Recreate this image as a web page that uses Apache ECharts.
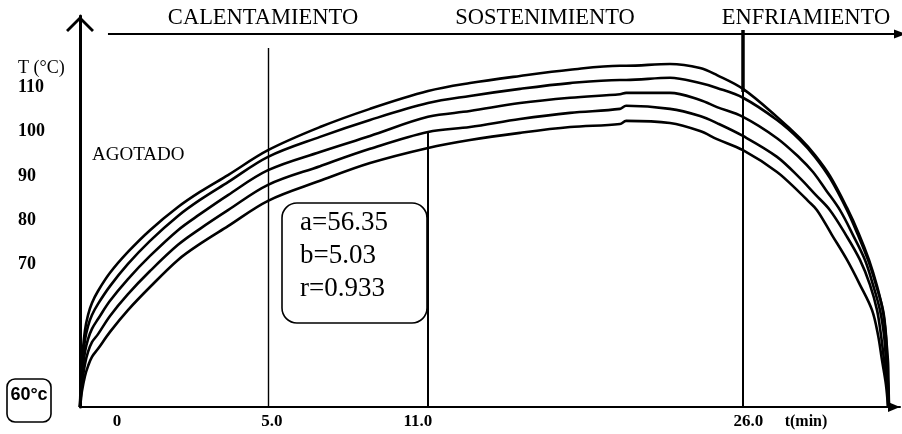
<!DOCTYPE html>
<html>
<head>
<meta charset="utf-8">
<script src="https://cdn.jsdelivr.net/npm/echarts@6/dist/echarts.min.js"></script>
<style>
  html, body { margin: 0; padding: 0; background: #fff; }
  #chart { width: 902px; height: 434px; }
</style>
</head>
<body>
<div id="chart"></div>
<script>
// Schematic run axis: 0 = start of heating, 100 = end of cooling (not linear in minutes)
const xPos = [0, 0.12, 0.24, 0.61, 0.98, 1.46, 2.2, 3.66, 5.85, 8.54, 11.95, 14.63, 18.05, 22.93,
  29.27, 35.37, 42.44, 47.56, 53.66, 59.76, 65.85, 66.6, 71.95, 75.61, 77.68, 80.85, 85.0, 87.8];

// Temperature (°C) of each profile at xPos, top curve first
const curve1 = [38.0, 45.2, 48.6, 55.3, 58.7, 61.4, 64.1, 68.2, 72.9, 77.8, 83.0, 86.4, 90.2, 95.8,
  101.0, 105.1, 109.1, 110.9, 112.5, 113.9, 114.8, 114.8, 115.2, 114.3, 112.7, 109.6, 103.3, 98.5];
const curve2 = [38.0, 43.6, 46.8, 53.1, 56.2, 58.7, 61.2, 65.2, 70.2, 75.4, 81.0, 84.6, 88.6, 94.3,
  98.8, 102.6, 106.4, 108.0, 109.6, 110.9, 111.6, 111.6, 112.1, 110.9, 109.8, 107.6, 102.6, 98.1];
const curve3 = [38.0, 42.3, 45.0, 50.4, 53.3, 55.6, 57.8, 61.9, 66.8, 72.0, 77.8, 81.4, 85.7, 91.3,
  95.4, 99.0, 103.3, 104.6, 106.4, 107.6, 108.4, 108.7, 108.7, 107.1, 105.5, 103.3, 98.5, 94.0];
const curve4 = [38.0, 40.9, 43.2, 47.7, 50.4, 52.6, 54.4, 58.5, 63.4, 68.6, 74.5, 78.1, 82.3, 88.0,
  92.2, 96.1, 99.9, 101.0, 102.8, 104.2, 105.1, 105.8, 105.1, 103.5, 101.9, 99.0, 94.3, 89.5];
const curve5 = [38.0, 39.8, 41.6, 45.0, 47.2, 49.3, 51.1, 54.9, 59.8, 65.0, 71.1, 74.7, 78.7, 84.4,
  88.9, 92.9, 96.3, 98.1, 99.7, 101.0, 101.7, 102.4, 101.9, 100.1, 98.3, 95.8, 90.9, 86.2];

// Cooling tails [position, °C]
const tail1 = [[89.63, 94.7], [91.46, 90.0], [93.54, 82.8], [95.0, 76.9], [96.22, 71.1], [97.2, 65.2],
  [97.93, 59.4], [98.29, 53.8], [98.54, 48.1], [98.6, 43.0], [98.66, 38.0]];
const tail2 = [[89.63, 94.3], [91.46, 89.5], [93.54, 82.3], [94.88, 76.7], [96.1, 71.1], [97.07, 65.5],
  [97.93, 59.8], [98.29, 54.2], [98.41, 48.6], [98.54, 43.0], [98.66, 38.0]];
const tail3 = [[89.39, 90.9], [90.98, 86.8], [92.68, 82.3], [94.27, 76.7], [95.73, 71.1], [96.71, 65.5],
  [97.56, 59.8], [98.05, 54.2], [98.29, 48.6], [98.54, 43.0], [98.6, 38.0]];
const tail4 = [[89.63, 85.9], [91.46, 82.3], [93.41, 76.7], [95.12, 71.1], [96.34, 65.5], [97.2, 59.8],
  [97.68, 54.2], [98.05, 48.6], [98.41, 43.0], [98.54, 38.0]];
const tail5 = [[88.78, 84.4], [89.88, 82.3], [91.71, 76.7], [93.54, 71.1], [95.12, 65.5], [96.59, 59.8],
  [97.32, 54.2], [97.8, 48.6], [98.29, 43.0], [98.54, 38.0]];

// Axis labels
const yTickValues = [70, 80, 90, 100, 110];
const xTickPos = [4.51, 23.4, 41.2, 81.5];
const xTickText = ['0', '5.0', '11.0', '26.0'];

// Phase boundaries (position, top of guide in °C)
const phaseLinePos = [22.93, 42.44, 80.85];
const phaseLineTop = [118.8, 99.7, 122.85];
const phaseLineWidth = [1.4, 2, 2];
const phaseNames = ['CALENTAMIENTO', 'SOSTENIMIENTO', 'ENFRIAMIENTO'];
const phaseArrowY = 121.95;
const fitParams = ['a=56.35', 'b=5.03', 'r=0.933'];

const Y_MIN = 38, Y_MAX = 126;
const serif = "'Liberation Serif', 'Times New Roman', serif";
const sans = "'Liberation Sans', Arial, sans-serif";

const chart = echarts.init(document.getElementById('chart'));

function profile(ys, tail) {
  return xPos.map((x, i) => [x, ys[i]]).concat(tail);
}

const profiles = [[curve1, tail1], [curve2, tail2], [curve3, tail3], [curve4, tail4], [curve5, tail5]];

const guides = phaseLinePos.map((x, i) => [
  { coord: [x, Y_MIN], lineStyle: { width: phaseLineWidth[i], color: '#000', type: 'solid' } },
  { coord: [x, phaseLineTop[i]] }
]);
// heavier upper stretch of the cooling boundary
guides.push([
  { coord: [phaseLinePos[2], 108.9], lineStyle: { width: 3.5, color: '#000', type: 'solid' } },
  { coord: [phaseLinePos[2], phaseLineTop[2]] }
]);
// phase arrow along the top
guides.push([
  { coord: [3.41, phaseArrowY], symbol: 'none', lineStyle: { width: 2, color: '#000', type: 'solid' } },
  { coord: [100, phaseArrowY], symbol: 'triangle', symbolSize: [9, 12] }
]);
guides.push([
  { coord: [100.2, 119.0], lineStyle: { width: 3, color: '#000', type: 'solid' } },
  { coord: [100.2, 123.3] }
]);

const series = profiles.map(([ys, tail], i) => ({
  type: 'line',
  data: profile(ys, tail),
  showSymbol: false,
  smooth: 0.35,
  clip: false,
  silent: true,
  lineStyle: { color: '#000', width: 2.6 },
  z: 3,
  markLine: i === 0 ? {
    silent: true,
    symbol: 'none',
    label: { show: false },
    emphasis: { disabled: true },
    data: guides
  } : undefined
}));

const phaseCenters = [263, 545, 806];
const graphics = phaseNames.map((name, i) => ({
  type: 'text', x: phaseCenters[i], y: 18,
  style: { text: name, fontFamily: serif, fontSize: 22.5, fill: '#000', align: 'center', verticalAlign: 'middle' }
}));
graphics.push(
  { type: 'text', x: 18, y: 68, style: { text: 'T (°C)', fontFamily: serif, fontSize: 18, fill: '#000', verticalAlign: 'middle' } },
  { type: 'text', x: 92, y: 155, style: { text: 'AGOTADO', fontFamily: serif, fontSize: 19, fill: '#000', verticalAlign: 'middle' } },
  { type: 'text', x: 806, y: 422, style: { text: 't(min)', fontFamily: serif, fontSize: 16, fontWeight: 'bold', fill: '#000', align: 'center', verticalAlign: 'middle' } },
  { type: 'rect', shape: { x: 282, y: 203, width: 145, height: 120, r: 15 }, style: { fill: 'none', stroke: '#000', lineWidth: 1.6 } },
  { type: 'rect', shape: { x: 7, y: 379, width: 44, height: 43, r: 8 }, style: { fill: 'none', stroke: '#000', lineWidth: 1.6 } },
  { type: 'text', x: 29, y: 395, style: { text: '60°c', fontFamily: sans, fontSize: 18, fontWeight: 'bold', fill: '#000', align: 'center', verticalAlign: 'middle' } }
);
fitParams.forEach((t, i) => {
  graphics.push({ type: 'text', x: 300, y: 223 + i * 33, style: { text: t, fontFamily: serif, fontSize: 27, fill: '#000', verticalAlign: 'middle' } });
});

chart.setOption({
  animation: false,
  backgroundColor: '#fff',
  grid: { left: 80, right: 2, top: 16, bottom: 27, containLabel: false, outerBoundsMode: 'none' },
  xAxis: {
    type: 'value', min: 0, max: 100,
    splitLine: { show: false },
    axisTick: { show: false },
    axisLine: {
      show: true, onZero: false,
      lineStyle: { color: '#000', width: 2 },
      symbol: ['none', 'triangle'], symbolSize: [10, 12], symbolOffset: [0, -6]
    },
    axisLabel: {
      customValues: xTickPos,
      formatter: v => xTickText[xTickPos.indexOf(v)] || '',
      margin: 6, fontFamily: serif, fontWeight: 'bold', fontSize: 17, color: '#000'
    }
  },
  yAxis: {
    type: 'value', min: Y_MIN, max: Y_MAX,
    splitLine: { show: false },
    axisTick: { show: false },
    axisLine: {
      show: true, onZero: false,
      lineStyle: { color: '#000', width: 3 },
      symbol: ['none', 'path://M14,0 L28,14 L26,16 L14,4 L2,16 L0,14 Z'],
      symbolSize: [30, 16], symbolOffset: [0, -8]
    },
    axisLabel: {
      customValues: yTickValues,
      align: 'left', margin: 62,
      fontFamily: serif, fontWeight: 'bold', fontSize: 18, color: '#000'
    }
  },
  graphic: graphics,
  series: series
});
</script>
</body>
</html>
